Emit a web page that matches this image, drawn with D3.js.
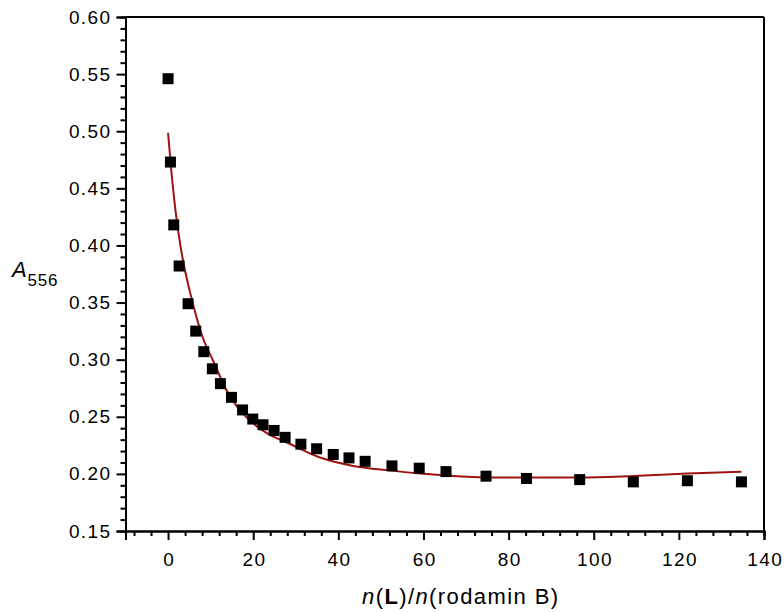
<!DOCTYPE html>
<html>
<head>
<meta charset="utf-8">
<script src="https://cdn.jsdelivr.net/npm/d3@7"></script>
<style>
  body { margin: 0; background: #fff; }
  svg { display: block; font-family: "Liberation Sans", Arial, sans-serif; }
</style>
</head>
<body>
<svg id="chart" width="784" height="612"></svg>
<script>
// Measured points: n(L)/n(rodamin B) and A556
const ratioValues = [0, 0.56, 1.34, 2.6, 4.7, 6.5, 8.4, 10.4, 12.3, 14.9, 17.5, 19.9, 22.3, 24.9, 27.5,
  31.2, 34.9, 38.8, 42.5, 46.3, 52.6, 59.0, 65.3, 74.7, 84.2, 96.7, 109.3, 122.0, 134.7];
const absorbanceValues = [0.546, 0.473, 0.418, 0.382, 0.349, 0.325, 0.307, 0.292, 0.279, 0.267, 0.256,
  0.248, 0.243, 0.238, 0.232, 0.226, 0.222, 0.217, 0.214, 0.211, 0.207, 0.205, 0.202, 0.198, 0.196,
  0.195, 0.193, 0.194, 0.193];

// Fitted curve
const fitX = [0, 0.7, 1.8, 2.6, 3.5, 5.1, 6.7, 8.2, 10.6, 13.7, 16.1, 19.9, 23.5, 27.9, 35.7, 43.5, 51.4,
  59.2, 67.0, 78.0, 96.8, 109.3, 122.0, 134.7];
const fitY = [0.4985, 0.468, 0.429, 0.407, 0.387, 0.360, 0.337, 0.319, 0.299, 0.2735, 0.2595,
  0.2445, 0.235, 0.2275, 0.2143, 0.2070, 0.2033, 0.2003, 0.1982, 0.1968, 0.1968, 0.1982, 0.2003, 0.2018];

const xMajorTicks = [0, 20, 40, 60, 80, 100, 120, 140];
const yMajorTicks = [0.15, 0.20, 0.25, 0.30, 0.35, 0.40, 0.45, 0.50, 0.55, 0.60];

const svg = d3.select("#chart");
const pLeft = 125.5, pRight = 764, pTop = 17, pBottom = 531;

const x = d3.scaleLinear().domain([-10, 140]).range([pLeft, pRight]);
const y = d3.scaleLinear().domain([0.15, 0.60]).range([pBottom, pTop]);

const xMinor = d3.range(-8, 141, 4).filter(v => v % 20 !== 0);
const yMinor = d3.range(15, 61, 1).filter(v => v % 5 !== 0).map(v => v / 100);

// Frame (top and right)
svg.append("line").attr("x1", pLeft).attr("x2", pRight).attr("y1", pTop).attr("y2", pTop)
  .attr("stroke", "#000").attr("stroke-width", 2);
svg.append("line").attr("x1", pRight).attr("x2", pRight).attr("y1", pTop).attr("y2", pBottom)
  .attr("stroke", "#000").attr("stroke-width", 2);

// X axis
const gxMinor = svg.append("g").attr("transform", `translate(0,${pBottom})`)
  .call(d3.axisBottom(x).tickValues(xMinor).tickSize(5).tickFormat(""));
const gx = svg.append("g").attr("transform", `translate(0,${pBottom})`)
  .call(d3.axisBottom(x).tickValues(xMajorTicks).tickSize(9).tickPadding(13).tickFormat(d3.format("d")));

// Y axis
const gyMinor = svg.append("g").attr("transform", `translate(${pLeft},0)`)
  .call(d3.axisLeft(y).tickValues(yMinor).tickSize(5).tickFormat(""));
const gy = svg.append("g").attr("transform", `translate(${pLeft},0)`)
  .call(d3.axisLeft(y).tickValues(yMajorTicks).tickSize(9).tickPadding(5).tickFormat(d3.format(".2f")));

[gxMinor, gx, gyMinor, gy].forEach(g => {
  g.selectAll(".domain").attr("stroke", "#000").attr("stroke-width", 2);
  g.selectAll(".tick line").attr("stroke", "#000").attr("stroke-width", 2);
  g.selectAll(".tick text").attr("fill", "#000").style("font-size", "19px")
    .style("letter-spacing", "1.4px")
    .style("font-family", '"Liberation Sans", Arial, sans-serif');
});
gx.selectAll(".tick text").attr("dx", "0.7px");

// Fit curve
const fitData = fitX.map((v, i) => [v, fitY[i]]);
svg.append("path").datum(fitData)
  .attr("fill", "none").attr("stroke", "#9e1212").attr("stroke-width", 2)
  .attr("d", d3.line().x(d => x(d[0])).y(d => y(d[1])).curve(d3.curveMonotoneX));

// Points
const s = 11;
svg.append("g").selectAll("rect").data(ratioValues.map((v, i) => [v, absorbanceValues[i]]))
  .join("rect")
  .attr("x", d => x(d[0]) - s / 2).attr("y", d => y(d[1]) - s / 2)
  .attr("width", s).attr("height", s).attr("fill", "#000");

// X axis title
const xt = svg.append("text").attr("x", 362).attr("y", 604)
  .attr("text-anchor", "start").style("font-size", "22px").style("letter-spacing", "1.4px")
  .attr("fill", "#000");
xt.append("tspan").style("font-style", "italic").text("n");
xt.append("tspan").text("(");
xt.append("tspan").style("font-weight", "bold").text("L");
xt.append("tspan").text(")/");
xt.append("tspan").style("font-style", "italic").text("n");
xt.append("tspan").text("(rodamin B)");

// Y axis title
const yt = svg.append("text").attr("x", 12).attr("y", 277).style("font-size", "22px")
  .style("letter-spacing", "0.8px").attr("fill", "#000");
yt.append("tspan").style("font-style", "italic").text("A");
yt.append("tspan").attr("dy", 9).style("font-size", "17px").text("556");
</script>
</body>
</html>
